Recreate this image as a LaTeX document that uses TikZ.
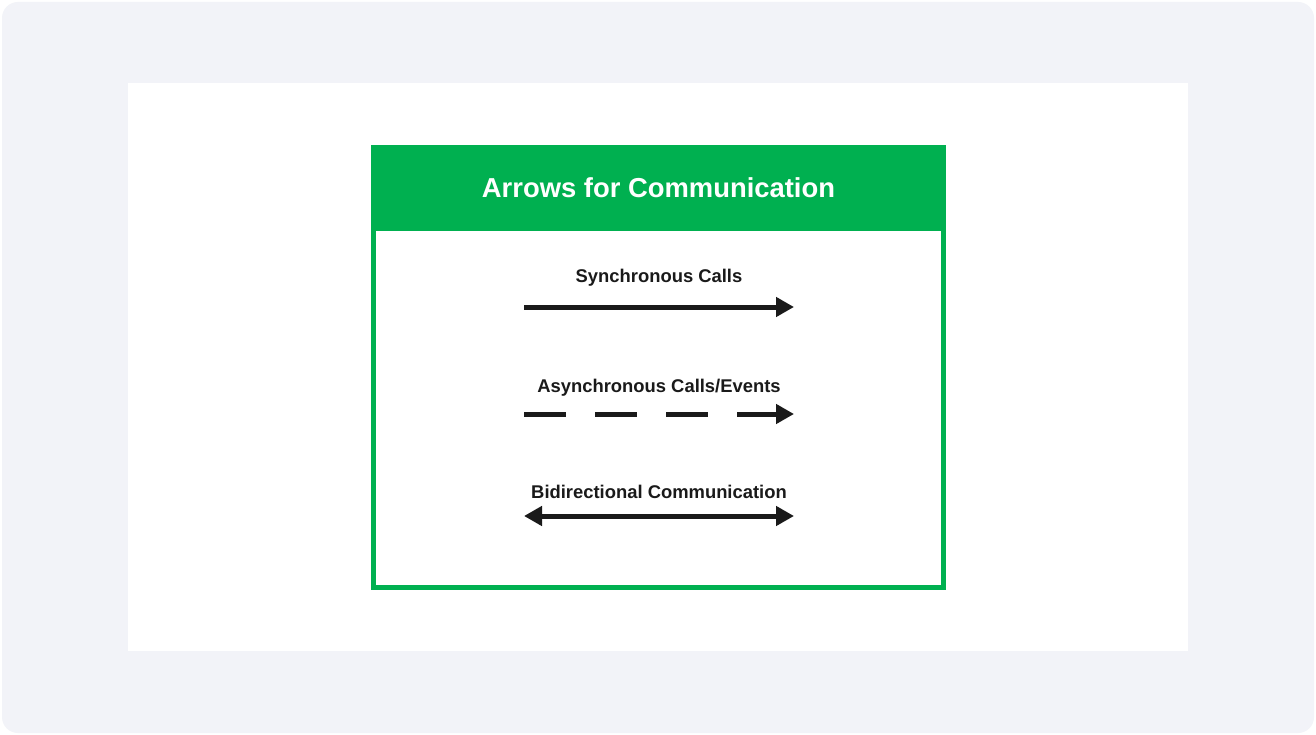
\documentclass[tikz,border=0pt]{standalone}
\usepackage{fontspec}
\setmainfont{Liberation Sans}
\usetikzlibrary{arrows.meta}
\definecolor{bggray}{HTML}{F2F3F8}
\definecolor{grn}{HTML}{00B050}
\definecolor{ink}{HTML}{1A1A1A}
\begin{document}
\begin{tikzpicture}[x=1pt,y=-1pt,
  lbl/.style={font=\fontsize{18.4}{22}\selectfont\bfseries, text=ink, inner sep=0pt},
  arr/.style={draw=ink, line width=5pt, -{Triangle[length=18pt,width=19pt]}},
  biarr/.style={draw=ink, line width=5pt, {Triangle[length=18pt,width=19pt]}-{Triangle[length=18pt,width=19pt]}},
  dasharr/.style={arr, dash pattern=on 42pt off 29pt}]
\useasboundingbox (0,0) rectangle (1316,735);
\fill[white] (0,0) rectangle (1316,735);
\fill[bggray, rounded corners=16pt] (2,2) rectangle (1314,733);
\fill[white] (128,83) rectangle (1188,651);
% green frame
\fill[grn] (371,145) rectangle (946,231);
\draw[grn, line width=5pt] (373.5,231) -- (373.5,587.5) -- (943.5,587.5) -- (943.5,231);
\node[font=\fontsize{27.4}{32}\selectfont\bfseries, text=white, inner sep=0pt] (title) at (658.5,188) {Arrows for Communication};
% arrows
\node[lbl] (l1) at (659,278) {Synchronous Calls};
\coordinate (a1) at (524,307); \coordinate (b1) at (794,307);
\draw[arr] (a1) -- (b1);
\node[lbl] (l2) at (659,388) {Asynchronous Calls/Events};
\coordinate (a2) at (524,414); \coordinate (b2) at (794,414);
\draw[dasharr] (a2) -- (b2);
\node[lbl] (l3) at (659,492) {Bidirectional Communication};
\coordinate (a3) at (524,516); \coordinate (b3) at (794,516);
\draw[biarr] (a3) -- (b3);
\end{tikzpicture}
\end{document}
